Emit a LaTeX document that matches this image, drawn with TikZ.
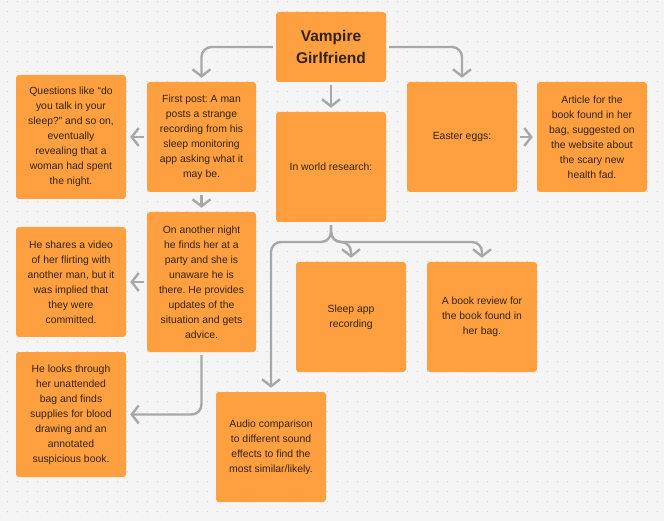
\documentclass[tikz,border=0pt]{standalone}
\usepackage{fontspec}
\setmainfont{Liberation Sans}
\usetikzlibrary{arrows.meta, positioning, calc}
\frenchspacing

\definecolor{sticky}{RGB}{255,160,64}
\definecolor{ink}{RGB}{50,35,20}
\definecolor{wire}{RGB}{168,168,168}
\definecolor{paper}{RGB}{245,245,245}
\definecolor{griddot}{RGB}{198,198,198}

\begin{document}
\begin{tikzpicture}[x=1pt, y=-1pt,
    note/.style={fill=sticky, rounded corners=3pt, text=ink, align=center,
                 minimum width=110pt, minimum height=110pt, inner sep=2pt,
                 font=\fontsize{10.4}{15}\selectfont},
    link/.style={draw=wire, line width=2.4pt, rounded corners=10pt,
                 -{Straight Barb[length=7pt,width=18pt]},
                 shorten <=3pt, shorten >=4pt}]
    % Background and dot grid
    \fill[paper] (0,0) rectangle (664,521);
    \useasboundingbox (0,0) rectangle (664,521);
    \foreach \gx in {0,...,65}
        \foreach \gy in {0,...,51}
            \fill[griddot] ({7.3+10*\gx},{1.7+10*\gy}) circle (0.6pt);

    % Notes
    \node[note, minimum height=70pt, font=\fontsize{15.5}{22}\selectfont\bfseries] (title) at (331,47) {Vampire\\Girlfriend};
    \node[note, minimum width=109pt] (firstpost) at (201.5,137) {First post: A man\\posts a strange\\recording from his\\sleep monitoring\\app asking what it\\may be.};
    \node[note, minimum height=124pt] (questions) at (71,137) {Questions like “do\\you talk in your\\sleep?” and so on,\\eventually\\revealing that a\\woman had spent\\the night.};
    \node[note] (research) at (331,167) {In world research:};
    \node[note] (eggs) at (462,137) {Easter eggs:};
    \node[note] (article) at (592,137) {Article for the\\book found in her\\bag, suggested on\\the website about\\the scary new\\health fad.};
    \node[note, minimum width=109pt, minimum height=140pt] (night) at (201.5,282) {On another night\\he finds her at a\\party and she is\\unaware he is\\there. He provides\\updates of the\\situation and gets\\advice.};
    \node[note] (shares) at (71,282) {He shares a video\\of her flirting with\\another man, but it\\was implied that\\they were\\committed.};
    \node[note, minimum height=125pt] (looks) at (71,414.5) {He looks through\\her unattended\\bag and finds\\supplies for blood\\drawing and an\\annotated\\suspicious book.};
    \node[note] (sleep) at (351,317) {Sleep app\\recording};
    \node[note] (review) at (482,317) {A book review for\\the book found in\\her bag.};
    \node[note] (audio) at (271,447) {Audio comparison\\to different sound\\effects to find the\\most similar/likely.};

    % Connectors
    \coordinate (split) at (331,242);
    \draw[link] (title.west) -| (firstpost.north);
    \draw[link] (title.east) -| (eggs.north);
    \draw[link] (title.south) -- (research.north);
    \draw[link] (firstpost.west) -- (questions.east |- firstpost.west);
    \draw[link] (firstpost.south) -- (night.north);
    \draw[link] (eggs.east) -- (article.west);
    \draw[link] (night.west) -- (shares.east);
    \draw[link] (night.south) |- (looks.east);
    \draw[link] (research.south) -- (split) -| (audio.north);
    \draw[link] (research.south) -- (split) -| (sleep.north);
    \draw[link] (research.south) -- (split) -| (review.north);
\end{tikzpicture}
\end{document}
